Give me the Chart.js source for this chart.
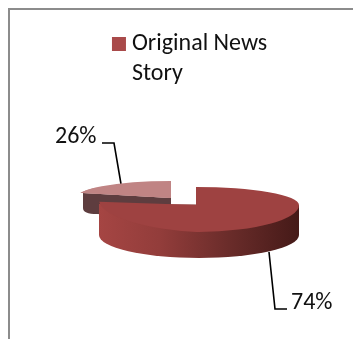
<!DOCTYPE html>
<html>
<head>
<meta charset="utf-8">
<style>
  html, body { margin: 0; padding: 0; background: #fff; }
  canvas { display: block; }
</style>
<script src="https://cdn.jsdelivr.net/npm/chart.js@4"></script>
</head>
<body>
<canvas id="chart" width="353" height="339"></canvas>
<script>
const categories = [['Original News', 'Story'], ''];
const shares = [74, 26];
const sliceColors = ['#9e4241', '#c08484'];
const legendColor = '#a94a4a';

const FONT_FAMILY = 'Carlito, Lato, sans-serif';
const FONT_SIZE = 24;

// Where each flattened slice sits on the page: hub, radii and wall height.
const sliceFaces = [
  { x: 196, y: 205, left: 97, right: 103, up: 18, down: 27, wallDrop: 30, wallBottom: 23, leftShear: 0.05 },
  { x: 171, y: 198, left: 95, right: 95, up: 17, down: 17, wallDrop: 20, tipX: 83, tipY: 193 }
];

const leaders = [
  { points: [[269, 252], [275, 309], [287, 309]], text: [291, 303] },
  { points: [[102, 143], [114, 143], [121, 184]], text: [55, 137] }
];

// Draws one arc element squashed into an ellipse, quadrant by quadrant,
// so the near half can look deeper than the far half.
function drawFlatArc(ctx, arc, face) {
  const R = arc.outerRadius;
  const quads = [
    { rx: face.right, ry: face.up,   ox: 0,              oy: -face.up - 10, w: face.right + 2, h: face.up + 10, k: 0 },
    { rx: face.right, ry: face.down, ox: 0,              oy: 0,             w: face.right + 2, h: face.down + 2, k: 0 },
    { rx: face.left,  ry: face.down, ox: -face.left - 2, oy: -10,           w: face.left + 2,  h: face.down + 12, k: face.leftShear || 0 },
    { rx: face.left,  ry: face.up,   ox: -face.left - 2, oy: -face.up - 10, w: face.left + 2,  h: face.up + 10, k: 0 }
  ];
  for (const q of quads) {
    ctx.save();
    ctx.beginPath();
    ctx.rect(face.x + q.ox, face.y + q.oy, q.w, q.h);
    ctx.clip();
    if (face.tipX !== undefined) {
      // The cut edge of the pulled-out slice rises towards its tip.
      const far = 1.3;
      const ex = face.x + (face.tipX - face.x) * far;
      const ey = face.y + (face.tipY - face.y) * far;
      ctx.beginPath();
      ctx.moveTo(face.x, face.y);
      ctx.lineTo(ex, ey);
      ctx.lineTo(ex, face.y - 40);
      ctx.lineTo(face.x, face.y - 40);
      ctx.closePath();
      ctx.clip();
    }
    ctx.translate(face.x, face.y);
    ctx.transform(1, q.k, 0, 1, 0, 0);
    ctx.scale(q.rx / R, q.ry / R);
    ctx.translate(-arc.x, -arc.y);
    arc.draw(ctx);
    ctx.restore();
  }
}

function drawBigWall(ctx, f) {
  const g = ctx.createLinearGradient(f.x - f.left, 0, f.x + f.right, 0);
  g.addColorStop(0, '#a54543');
  g.addColorStop(0.3, '#933d3b');
  g.addColorStop(0.65, '#6a2c2a');
  g.addColorStop(1, '#451a18');
  const cx = f.x + (f.right - f.left) / 2;
  const rx = (f.right + f.left) / 2;
  ctx.fillStyle = g;
  ctx.beginPath();
  ctx.moveTo(cx + rx, f.y);
  ctx.lineTo(cx + rx, f.y + f.wallDrop);
  ctx.ellipse(cx, f.y + f.wallDrop, rx, f.wallBottom, 0, 0, Math.PI);
  ctx.lineTo(cx - rx, f.y - 1);
  ctx.closePath();
  ctx.fill();
}

function drawSmallWall(ctx, f) {
  ctx.fillStyle = '#5e3d3f';
  ctx.beginPath();
  ctx.moveTo(f.tipX, f.tipY);
  ctx.lineTo(f.x, f.y);
  ctx.lineTo(f.x, f.y + f.wallDrop);
  ctx.lineTo(f.tipX + 14, f.tipY + f.wallDrop + 1);
  ctx.quadraticCurveTo(f.tipX, f.tipY + f.wallDrop + 1, f.tipX, f.tipY + f.wallDrop - 5);
  ctx.closePath();
  ctx.fill();
}

const flatPie = {
  id: 'flatPie',
  afterLayout(chart) {
    // Leave room for the second line of the wrapped legend entry.
    chart.legend.bottom += FONT_SIZE * 2;
    chart.legend.height += FONT_SIZE * 2;
  },
  beforeDraw(chart) {
    const ctx = chart.ctx;
    ctx.save();
    ctx.fillStyle = '#fff';
    ctx.fillRect(0, 0, chart.width, chart.height);
    ctx.fillStyle = '#8c8c8c';
    ctx.fillRect(8, 8, chart.width - 8, 2);
    ctx.fillRect(8, 8, 2, chart.height - 8);
    ctx.restore();
  },
  beforeDatasetDraw(chart, args) {
    const ctx = chart.ctx;
    const arcs = args.meta.data;
    const total = shares.reduce((a, b) => a + b, 0);

    ctx.save();
    ctx.strokeStyle = '#000';
    ctx.lineWidth = 1.6;
    leaders.forEach((l) => {
      ctx.beginPath();
      l.points.forEach(([x, y], i) => (i ? ctx.lineTo(x, y) : ctx.moveTo(x, y)));
      ctx.stroke();
    });
    drawSmallWall(ctx, sliceFaces[1]);
    drawFlatArc(ctx, arcs[1], sliceFaces[1]);
    drawBigWall(ctx, sliceFaces[0]);
    drawFlatArc(ctx, arcs[0], sliceFaces[0]);

    ctx.fillStyle = '#111';
    ctx.font = FONT_SIZE + 'px ' + FONT_FAMILY;
    ctx.textBaseline = 'middle';
    ctx.textAlign = 'left';
    leaders.forEach((l, i) => {
      ctx.fillText(Math.round(shares[i] / total * 100) + '%', l.text[0], l.text[1]);
    });
    ctx.restore();
    return false;
  }
};

new Chart(document.getElementById('chart'), {
  type: 'pie',
  data: {
    labels: categories,
    datasets: [{
      data: shares,
      backgroundColor: sliceColors,
      borderWidth: 0
    }]
  },
  options: {
    responsive: false,
    animation: false,
    rotation: 0,
    layout: { padding: { left: 89, top: 26, right: 0, bottom: 0 } },
    plugins: {
      tooltip: { enabled: false },
      legend: {
        position: 'top',
        labels: {
          // A tiny box with a thick outline keeps the swatch close to its text.
          boxWidth: 2,
          boxHeight: 2,
          padding: 6,
          color: '#111',
          font: { family: FONT_FAMILY, size: FONT_SIZE, lineHeight: 1.25 },
          filter: (item) => item.index === 0,
          generateLabels(chart) {
            return Chart.overrides.pie.plugins.legend.labels.generateLabels(chart)
              .map((item) => ({ ...item, fillStyle: legendColor, strokeStyle: legendColor, lineWidth: 12 }));
          }
        }
      }
    }
  },
  plugins: [flatPie]
});
</script>
</body>
</html>
